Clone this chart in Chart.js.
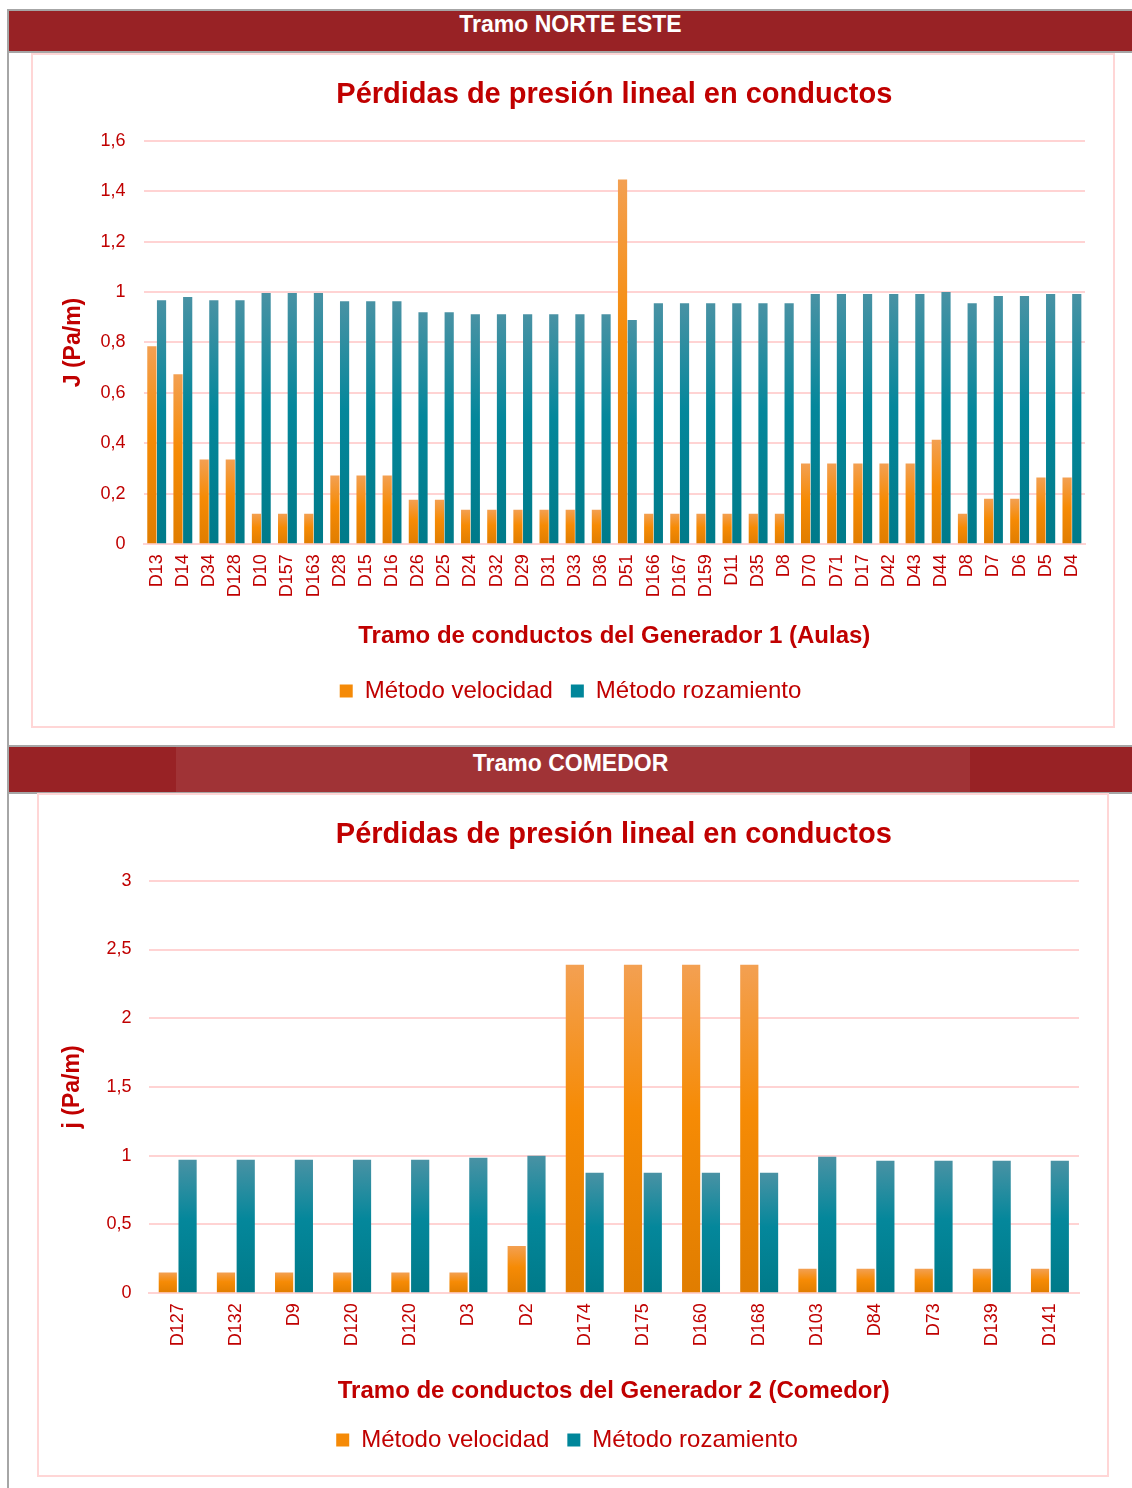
<!DOCTYPE html>
<html>
<head>
<meta charset="utf-8">
<script src="https://cdn.jsdelivr.net/npm/chart.js@4.4.1/dist/chart.umd.min.js"></script>
<style>
  body { margin: 0; width: 1132px; height: 1488px; background: #fff; position: relative; overflow: hidden; font-family: Arial, "Liberation Sans", sans-serif; }
  .marco { position: absolute; left: 7px; top: 9px; width: 1125px; height: 1479px; border-left: 2px solid #a6a6a6; border-top: 2px solid #a6a6a6; }
  .cabecera { position: absolute; left: 9px; width: 1123px; background: #982225; color: #fff; font-weight: bold; font-size: 23px; text-align: center; border-bottom: 2px solid #a6a6a6; }
  .velo { position: absolute; left: 167px; width: 794px; height: 100%; top: 0; background: rgba(255,255,255,0.08); }
  .caja { position: absolute; border: 2px solid #ffd6d6; box-sizing: border-box; }
  canvas { display: block; }
</style>
</head>
<body>
<div class="marco"></div>
<div class="cabecera" style="top:11px;height:40px;line-height:27px;">Tramo NORTE ESTE</div>
<div class="cabecera" style="top:745px;height:45px;line-height:33px;border-top:2px solid #a6a6a6;"><div class="velo"></div><span style="position:relative">Tramo COMEDOR</span></div>

<div class="caja" style="left:31px;top:53px;width:1084px;height:675px;">
  <canvas id="grafica1" width="1080" height="671"></canvas>
</div>
<div class="caja" style="left:37px;top:793px;width:1072px;height:684px;">
  <canvas id="grafica2" width="1068" height="680"></canvas>
</div>

<script>
// Tramo NORTE ESTE - Generador 1 (Aulas)
const conductos1 = ['D13','D14','D34','D128','D10','D157','D163','D28','D15','D16','D26','D25','D24','D32','D29','D31','D33','D36',
  'D51','D166','D167','D159','D11','D35','D8','D70','D71','D17','D42','D43','D44','D8','D7','D6','D5','D4'];
const velocidad1 = [0.785,0.674,0.336,0.336,0.121,0.121,0.121,0.272,0.272,0.272,0.176,0.176,0.137,0.137,0.137,0.137,0.137,0.137,
  1.446,0.121,0.121,0.121,0.121,0.121,0.121,0.32,0.32,0.32,0.32,0.32,0.414,0.121,0.18,0.18,0.264,0.264];
const rozamiento1 = [0.968,0.98,0.968,0.968,0.996,0.996,0.996,0.964,0.964,0.964,0.92,0.92,0.912,0.912,0.912,0.912,0.912,0.912,
  0.889,0.956,0.956,0.956,0.956,0.956,0.956,0.992,0.992,0.992,0.992,0.992,1.0,0.956,0.984,0.984,0.992,0.992];

// Tramo COMEDOR - Generador 2 (Comedor)
const conductos2 = ['D127','D132','D9','D120','D120','D3','D2','D174','D175','D160','D168','D103','D84','D73','D139','D141'];
const velocidad2 = [0.15,0.15,0.15,0.15,0.15,0.15,0.344,2.39,2.39,2.39,2.39,0.177,0.177,0.177,0.177,0.177];
const rozamiento2 = [0.97,0.97,0.97,0.97,0.97,0.985,0.999,0.876,0.876,0.876,0.876,0.992,0.963,0.963,0.963,0.963];

const rojo = '#c00000';
const rejilla = '#ffd3d3';
const fuente = 'Arial, "Liberation Sans", sans-serif';

// degradado vertical de cada barra, como en Excel
function degradado(colores, solido) {
  return (ctx) => {
    const chart = ctx.chart;
    if (!chart.chartArea || ctx.raw === undefined) return solido;
    const y = chart.scales.y;
    const arriba = y.getPixelForValue(ctx.raw);
    const abajo = y.getPixelForValue(0);
    if (!isFinite(arriba) || !isFinite(abajo) || arriba === abajo) return solido;
    const g = chart.ctx.createLinearGradient(0, arriba, 0, abajo);
    g.addColorStop(0, colores[0]);
    g.addColorStop(0.45, colores[1]);
    g.addColorStop(1, colores[2]);
    return g;
  };
}
const naranja = degradado(['#f3a052', '#f68b05', '#e07d00'], '#f58a07');
const azul = degradado(['#4992a4', '#04879b', '#007a89'], '#00869a');

function crearGrafica(id, etiquetas, vel, roz, opts) {
  new Chart(document.getElementById(id), {
    type: 'bar',
    data: {
      labels: etiquetas,
      datasets: [
        { label: 'Método velocidad', data: vel, backgroundColor: naranja, barPercentage: opts.barPct, categoryPercentage: opts.catPct },
        { label: 'Método rozamiento', data: roz, backgroundColor: azul, barPercentage: opts.barPct, categoryPercentage: opts.catPct }
      ]
    },
    options: {
      responsive: false,
      animation: false,
      layout: { padding: { left: opts.izquierda, right: 28, bottom: 13, top: 0 } },
      plugins: {
        title: {
          display: true,
          text: 'Pérdidas de presión lineal en conductos',
          color: rojo,
          fullSize: false,
          font: { family: fuente, size: 29, weight: 'bold' },
          padding: { top: 23, bottom: 28 }
        },
        legend: {
          position: 'bottom',
          labels: {
            color: rojo,
            font: { family: fuente, size: 24 },
            boxWidth: 13,
            boxHeight: 13,
            padding: 18,
            generateLabels: () => [
              { text: 'Método velocidad', fillStyle: '#f58a07', strokeStyle: '#f58a07', lineWidth: 0, fontColor: rojo, datasetIndex: 0 },
              { text: 'Método rozamiento', fillStyle: '#00869a', strokeStyle: '#00869a', lineWidth: 0, fontColor: rojo, datasetIndex: 1 }
            ]
          }
        },
        tooltip: { enabled: false }
      },
      scales: {
        x: {
          grid: { display: false },
          border: { color: rejilla, width: 2 },
          ticks: { color: rojo, font: { family: fuente, size: 18 }, minRotation: 90, maxRotation: 90, autoSkip: false, padding: 2 },
          title: { display: true, text: opts.tituloX, color: rojo, font: { family: fuente, size: 24, weight: 'bold' }, padding: { top: opts.tituloArriba, bottom: opts.tituloAbajo } }
        },
        y: {
          min: 0,
          max: opts.max,
          grid: { color: rejilla, lineWidth: 2, drawTicks: false },
          border: { display: false },
          ticks: {
            stepSize: opts.paso,
            color: rojo,
            padding: opts.margenTicks,
            font: { family: fuente, size: 18 },
            callback: (v) => String(Math.round(v * 10) / 10).replace('.', ',')
          },
          title: { display: true, text: opts.tituloY, color: rojo, font: { family: fuente, size: 23, weight: 'bold' }, padding: { top: 4, bottom: opts.tituloYpad } }
        }
      }
    }
  });
}

crearGrafica('grafica1', conductos1, velocidad1, rozamiento1, {
  max: 1.6, paso: 0.2, tituloY: 'J (Pa/m)', tituloX: 'Tramo de conductos del Generador 1 (Aulas)',
  barPct: 0.95, catPct: 0.74, izquierda: 23, tituloYpad: -5, tituloArriba: 23, tituloAbajo: 10, margenTicks: 18
});
crearGrafica('grafica2', conductos2, velocidad2, rozamiento2, {
  max: 3, paso: 0.5, tituloY: 'j (Pa/m)', tituloX: 'Tramo de conductos del Generador 2 (Comedor)',
  barPct: 0.92, catPct: 0.68, izquierda: 16, tituloYpad: 3, tituloArriba: 29, tituloAbajo: 4, margenTicks: 17
});
</script>
</body>
</html>
